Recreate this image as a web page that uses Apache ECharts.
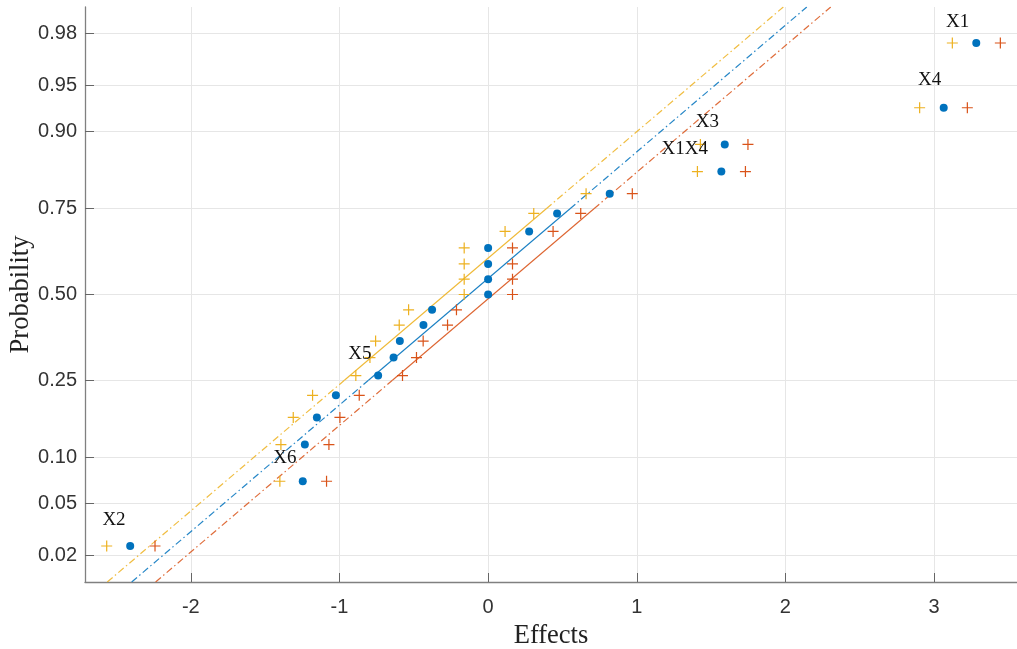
<!DOCTYPE html>
<html lang="en" style="height: 100%">
<head>
    <meta charset="utf-8">
    <title>Normal probability plot of effects</title>
    <script src="https://cdn.jsdelivr.net/npm/echarts@6/dist/echarts.min.js"></script>
</head>
<body style="height: 100%; margin: 0; background: #fff">
    <div id="main" style="width: 1017px; height: 649px"></div>
    <script>
        // plotting positions (probability axis)
        const probs = [0.024, 0.071, 0.119, 0.167, 0.214, 0.262, 0.310, 0.357, 0.405, 0.452, 0.500,
            0.548, 0.595, 0.643, 0.690, 0.738, 0.786, 0.833, 0.881, 0.929, 0.976];
        // effects, one value per plotting position
        const effectsMid = [-2.408, -1.247, -1.233, -1.152, -1.024, -0.740, -0.636, -0.594, -0.435, -0.377, 0,
            0, 0, 0, 0.276, 0.464, 0.818, 1.569, 1.592, 3.065, 3.284];
        const effectsLow = [-2.566, -1.401, -1.394, -1.311, -1.181, -0.890, -0.795, -0.757, -0.598, -0.535, -0.161,
            -0.161, -0.161, -0.161, 0.114, 0.307, 0.659, 1.408, 1.428, 2.903, 3.123];
        const effectsHigh = [-2.241, -1.087, -1.071, -0.997, -0.867, -0.576, -0.482, -0.437, -0.273, -0.213, 0.164,
            0.164, 0.164, 0.164, 0.437, 0.623, 0.970, 1.731, 1.748, 3.224, 3.446];

        // reference lines: effect at probability limits and quartiles
        const lineP = [0.0119, 0.25, 0.75, 0.9881];
        const lineMid = [-2.398, -0.805, 0.551, 2.144];
        const lineLow = [-2.562, -0.967, 0.391, 1.986];
        const lineHigh = [-2.237, -0.644, 0.712, 2.305];

        const yTicks = [0.02, 0.05, 0.10, 0.25, 0.50, 0.75, 0.90, 0.95, 0.98];
        const xTicks = [-2, -1, 0, 1, 2, 3];

        const labelNames = ['X1', 'X4', 'X3', 'X1X4', 'X5', 'X6', 'X2'];
        const labelX = [3.159, 2.970, 1.475, 1.323, -0.863, -1.367, -2.517];
        const labelP = [0.984, 0.954, 0.912, 0.874, 0.320, 0.099, 0.038];

        // inverse normal cdf (Acklam)
        function probit(p) {
            const a = [-3.969683028665376e+01, 2.209460984245205e+02, -2.759285104469687e+02, 1.383577518672690e+02, -3.066479806614716e+01, 2.506628277459239e+00];
            const b = [-5.447609879822406e+01, 1.615858368580409e+02, -1.556989798598866e+02, 6.680131188771972e+01, -1.328068155288572e+01];
            const c = [-7.784894002430293e-03, -3.223964580411365e-01, -2.400758277161838e+00, -2.549732539343734e+00, 4.374664141464968e+00, 2.938163982698783e+00];
            const d = [7.784695709041462e-03, 3.224671290700398e-01, 2.445134137142996e+00, 3.754408661907416e+00];
            const pl = 0.02425;
            let q, r;
            if (p < pl) {
                q = Math.sqrt(-2 * Math.log(p));
                return (((((c[0] * q + c[1]) * q + c[2]) * q + c[3]) * q + c[4]) * q + c[5]) / ((((d[0] * q + d[1]) * q + d[2]) * q + d[3]) * q + 1);
            }
            if (p > 1 - pl) {
                q = Math.sqrt(-2 * Math.log(1 - p));
                return -(((((c[0] * q + c[1]) * q + c[2]) * q + c[3]) * q + c[4]) * q + c[5]) / ((((d[0] * q + d[1]) * q + d[2]) * q + d[3]) * q + 1);
            }
            q = p - 0.5;
            r = q * q;
            return (((((a[0] * r + a[1]) * r + a[2]) * r + a[3]) * r + a[4]) * r + a[5]) * q / (((((b[0] * r + b[1]) * r + b[2]) * r + b[3]) * r + b[4]) * r + 1);
        }

        const blue = '#0072BD', yellow = '#EDB120', red = '#D95319';
        const plus = 'path://M4.45,0H5.55V10H4.45Z M0,4.45H10V5.55H0Z';
        const dashDot = [7, 3, 1.5, 3];

        const yTickZ = yTicks.map(probit);
        const yLabelMap = {};
        yTicks.forEach((p, i) => { yLabelMap[yTickZ[i].toFixed(4)] = p.toFixed(2); });

        function points(xs) {
            return xs.map((x, i) => [x, probit(probs[i])]);
        }

        // dash-dot tails plus solid middle between quartiles
        function refLine(xs, color) {
            const pts = xs.map((x, i) => [x, probit(lineP[i])]);
            const base = {
                type: 'line', symbol: 'none', silent: true, z: 1
            };
            return [
                { ...base, data: [pts[0], pts[1]], lineStyle: { color: color, width: 1.2, opacity: 0.85, type: dashDot } },
                { ...base, data: [pts[1], pts[2]], lineStyle: { color: color, width: 1.1, opacity: 0.9 } },
                { ...base, data: [pts[2], pts[3]], lineStyle: { color: color, width: 1.2, opacity: 0.85, type: dashDot } }
            ];
        }

        const myChart = echarts.init(document.getElementById('main'), null, { renderer: 'canvas' });

        const axisFont = { fontFamily: '"Liberation Sans", Arial, sans-serif', fontSize: 20, color: '#333' };
        const nameFont = { fontFamily: '"Liberation Serif", "Times New Roman", serif', fontSize: 26.5, color: '#222' };

        myChart.setOption({
            animation: false,
            grid: { left: 85, right: 0, top: 7, bottom: 67, outerBoundsMode: 'none', containLabel: false },
            xAxis: {
                type: 'value',
                min: -2.712,
                max: 3.558,
                name: 'Effects',
                nameLocation: 'middle',
                nameGap: 41,
                nameTextStyle: nameFont,
                axisLine: { show: true, onZero: false, lineStyle: { color: '#808080', width: 1.3 } },
                axisTick: { show: true, inside: true, length: 9, customValues: xTicks, lineStyle: { color: '#666' } },
                axisLabel: { ...axisFont, margin: 15, customValues: xTicks },
                splitLine: { show: true, lineStyle: { color: '#e6e6e6', width: 1 } }
            },
            yAxis: {
                type: 'value',
                min: probit(0.0119),
                max: probit(0.9881),
                name: 'Probability',
                nameLocation: 'middle',
                nameGap: 50,
                nameMoveOverlap: false,
                nameTextStyle: nameFont,
                axisLine: { show: true, onZero: false, lineStyle: { color: '#808080', width: 1.3 } },
                axisTick: { show: true, inside: true, length: 9, customValues: yTickZ, lineStyle: { color: '#666' } },
                axisLabel: {
                    ...axisFont,
                    margin: 8,
                    customValues: yTickZ,
                    formatter: v => yLabelMap[v.toFixed(4)] || ''
                },
                splitLine: { show: true, lineStyle: { color: '#e6e6e6', width: 1 } }
            },
            series: [
                ...refLine(lineLow, yellow),
                ...refLine(lineMid, blue),
                ...refLine(lineHigh, red),
                { type: 'scatter', data: points(effectsLow), symbol: plus, symbolSize: 11, itemStyle: { color: yellow, opacity: 1 }, z: 3 },
                { type: 'scatter', data: points(effectsHigh), symbol: plus, symbolSize: 11, itemStyle: { color: red, opacity: 1 }, z: 3 },
                { type: 'scatter', data: points(effectsMid), symbol: 'circle', symbolSize: 8, itemStyle: { color: blue, opacity: 1 }, z: 3 },
                {
                    type: 'scatter',
                    silent: true,
                    symbolSize: 1,
                    itemStyle: { color: 'rgba(0,0,0,0)', opacity: 1 },
                    z: 4,
                    label: {
                        show: true,
                        position: 'inside',
                        formatter: p => p.name,
                        fontFamily: '"Liberation Serif", "Times New Roman", serif',
                        fontSize: 19,
                        color: '#111'
                    },
                    data: labelNames.map((n, i) => ({ name: n, value: [labelX[i], probit(labelP[i])] }))
                }
            ]
        });
    </script>
</body>
</html>
